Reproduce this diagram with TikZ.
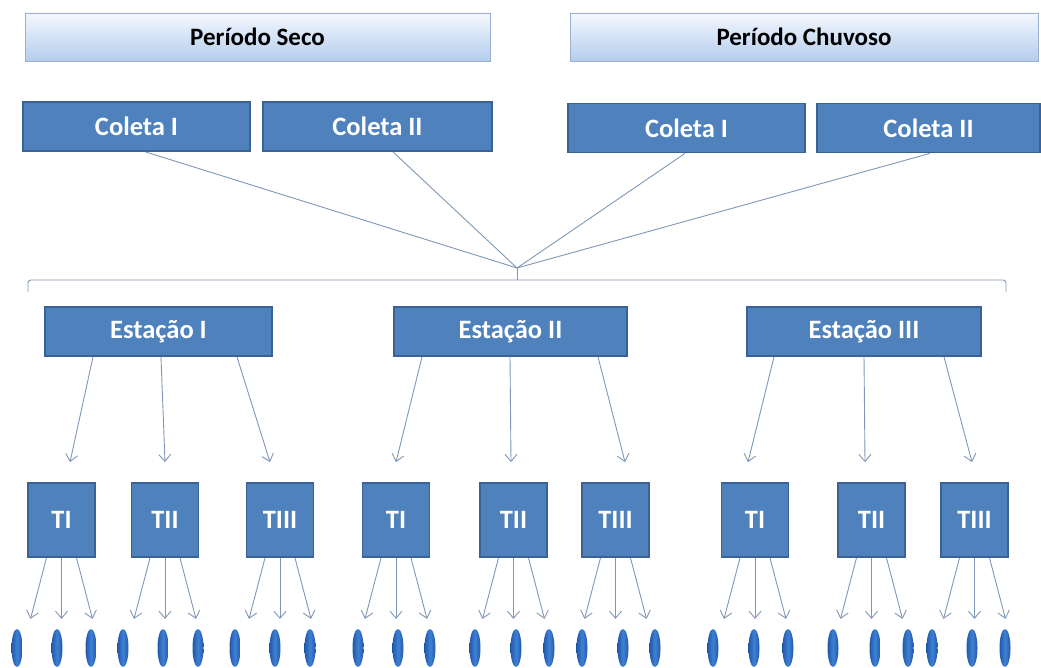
\documentclass[tikz,border=0pt]{standalone}
\usepackage{fontspec}
\setmainfont{Carlito}
\usetikzlibrary{arrows.meta,calc,shapes.geometric}
\definecolor{boxblue}{HTML}{4F81BD}
\definecolor{boxedge}{HTML}{3A6294}
\definecolor{hdredge}{HTML}{9AB0CE}
\definecolor{hdrtop}{HTML}{F4F8FD}
\definecolor{hdrbot}{HTML}{B4CDEE}
\definecolor{linecol}{HTML}{7F97B6}
\definecolor{leafdark}{HTML}{1F5AAC}
\definecolor{leaflight}{HTML}{3F80D2}
\tikzset{
  hdr/.style={draw=hdredge, line width=0.8pt, top color=hdrtop, bottom color=hdrbot,
    minimum height=48pt, inner sep=0pt, font=\fontsize{25}{28}\selectfont\bfseries, text=black},
  bbox/.style={draw=boxedge, fill=boxblue, line width=1.8pt, inner sep=0pt,
    font=\fontsize{26.5}{30}\selectfont\bfseries, text=white},
  wide/.style={bbox, minimum height=49pt},
  tbox/.style={bbox, minimum width=67pt, minimum height=74pt},
  conn/.style={draw=linecol, line width=0.9pt},
  arr/.style={conn, -{Straight Barb[length=7pt,width=12pt,line width=0.9pt]}},
  leaf/.style={ellipse, minimum width=11pt, minimum height=38pt, inner sep=0pt,
    left color=leafdark, right color=leafdark, middle color=leaflight}
}
\begin{document}
\begin{tikzpicture}[x=1pt,y=-1pt]
\useasboundingbox (0,0) rectangle (1041,668);
% headers
\node[hdr, minimum width=465pt] (seco) at (257.5,37) {Período Seco};
\node[hdr, minimum width=468pt] (chuv) at (804,37) {Período Chuvoso};
% coletas
\node[wide, minimum width=227pt] (c1) at (136.5,126.5) {Coleta I};
\node[wide, minimum width=229pt] (c2) at (377.5,126.5) {Coleta II};
\node[wide, minimum width=237pt] (c3) at (686.5,128) {Coleta I};
\node[wide, minimum width=223pt] (c4) at (928.5,128) {Coleta II};
% junction and brace
\coordinate (j) at (517,268);
\coordinate (bm) at (517,280);
\coordinate (bl) at (28,292);
\coordinate (br) at (1006,292);
\draw[conn] ($(c1.south)+(9,0)$) -- (j);
\draw[conn] ($(c2.south)+(15.5,0)$) -- (j);
\draw[conn] ($(c3.south)+(-1.5,0)$) -- (j);
\draw[conn] ($(c4.south)+(1.5,0)$) -- (j);
\draw[conn] (j) -- (bm);
\draw[conn, rounded corners=3pt] (bl) -- (bl |- bm) -- (br |- bm) -- (br);
% estacoes
\node[wide, minimum width=227pt] (e1) at (158.5,331.5) {Estação I};
\node[wide, minimum width=233pt] (e2) at (510.5,331.5) {Estação II};
\node[wide, minimum width=234pt] (e3) at (864,331.5) {Estação III};
% T boxes
\node[tbox] (t11) at (61.5,520) {TI};
\node[tbox] (t12) at (165,520) {TII};
\node[tbox] (t13) at (280,520) {TIII};
\node[tbox] (t21) at (396,520) {TI};
\node[tbox] (t22) at (513.5,520) {TII};
\node[tbox] (t23) at (615.5,520) {TIII};
\node[tbox] (t31) at (755,520) {TI};
\node[tbox] (t32) at (871.5,520) {TII};
\node[tbox] (t33) at (974.5,520) {TIII};
% estacao -> T arrows
\draw[arr] ($(e1.south)+(-65.5,0)$) -- ($(t11.north)+(8.5,-20)$);
\draw[arr] ($(e1.south)+(2.5,0)$) -- ($(t12.north)+(0,-20)$);
\draw[arr] ($(e1.south)+(78.5,0)$) -- ($(t13.north)+(-10,-20)$);
\draw[arr] ($(e2.south)+(-88.5,0)$) -- ($(t21.north)+(0,-20)$);
\draw[arr] ($(e2.south)+(-0.5,0)$) -- ($(t22.north)+(-2.5,-20)$);
\draw[arr] ($(e2.south)+(87.5,0)$) -- ($(t23.north)+(9.5,-20)$);
\draw[arr] ($(e3.south)+(-90,0)$) -- ($(t31.north)+(-7,-20)$);
\draw[arr] ($(e3.south)+(0,0)$) -- ($(t32.north)+(-6.5,-20)$);
\draw[arr] ($(e3.south)+(80,0)$) -- ($(t33.north)+(-2.5,-20)$);
% T -> leaf arrows
\foreach \t in {t11,t12,t13,t21,t22,t23,t31,t32,t33}{
  \draw[arr] ($(\t.south)+(-15,0)$) -- ($(\t.south)+(-31,61)$);
  \draw[arr] ($(\t.south)+(0,0)$) -- ($(\t.south)+(0,61)$);
  \draw[arr] ($(\t.south)+(15,0)$) -- ($(\t.south)+(31,61)$);
}
% leaves
\foreach \x [count=\i] in {17,57,91,123,163,198,235,275,310,358,398,430,475,516,549,582,623,655,713,754,788,833,875,908,932,972,1005}{
  \node[leaf] (l\i) at (\x,648) {};
}
\end{tikzpicture}
\end{document}
